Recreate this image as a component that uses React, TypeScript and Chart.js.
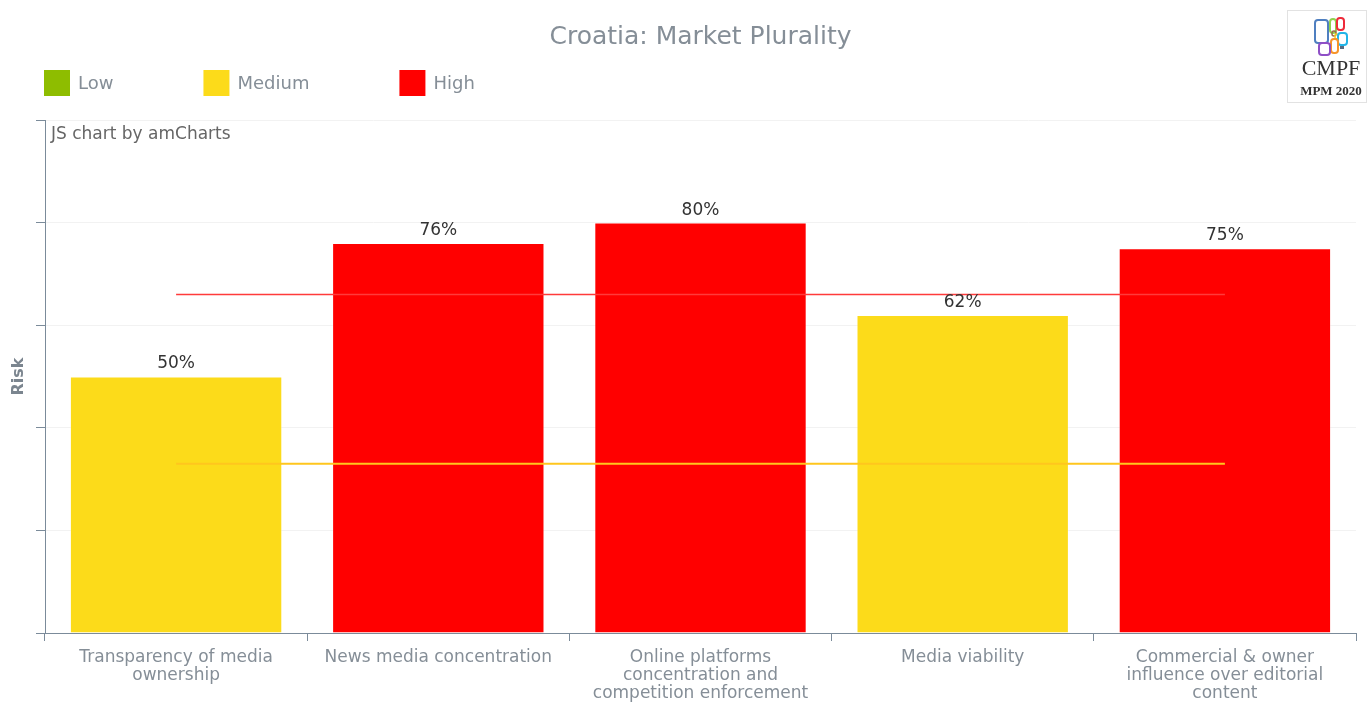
import React, { useEffect, useRef } from "react";
import { Chart, registerables } from "chart.js";

Chart.register(...registerables);

const chartTitle = "Croatia: Market Plurality";
const categories: string[][] = [
  ["Transparency of media", "ownership"],
  ["News media concentration"],
  ["Online platforms", "concentration and", "competition enforcement"],
  ["Media viability"],
  ["Commercial & owner", "influence over editorial", "content"],
];
const riskValues = [50, 76, 80, 62, 75];
const riskLevels = ["Medium", "High", "High", "Medium", "High"];
const highThreshold = [66, 66, 66, 66, 66];
const mediumThreshold = [33, 33, 33, 33, 33];
const legendLabels = ["Low", "Medium", "High"];
const yTicks = [0, 20, 40, 60, 80, 100];

const FONT = "'DejaVu Sans', Verdana, sans-serif";
const levelColors: Record<string, string> = {
  Low: "#8ebd00",
  Medium: "#fcdb1a",
  High: "#ff0000",
};
const axisColor = "#7b8b9a";
const textGray = "#858e97";

const decorPlugin = {
  id: "decor",
  afterDraw(chart: any) {
    const ctx = chart.ctx as CanvasRenderingContext2D;
    const area = chart.chartArea;
    ctx.save();
    // legend
    ctx.font = `18px ${FONT}`;
    ctx.textBaseline = "middle";
    let x = 44;
    const y = 83;
    legendLabels.forEach((lab) => {
      ctx.fillStyle = levelColors[lab];
      ctx.fillRect(x, y - 13, 26, 26);
      ctx.fillStyle = textGray;
      ctx.textAlign = "left";
      ctx.fillText(lab, x + 34, y + 1);
      x = x + 34 + ctx.measureText(lab).width + 90;
    });
    // watermark text
    ctx.font = `17px ${FONT}`;
    ctx.fillStyle = "#666";
    ctx.textBaseline = "middle";
    ctx.fillText("JS chart by amCharts", area.left + 6, area.top + 15);
    // data labels
    const meta = chart.getDatasetMeta(0);
    ctx.font = `17px ${FONT}`;
    ctx.fillStyle = "#333";
    ctx.textAlign = "center";
    ctx.textBaseline = "bottom";
    meta.data.forEach((bar: any, i: number) => {
      ctx.fillText(`${riskValues[i]}%`, bar.x, bar.y - 4);
    });
    // logo
    ctx.strokeStyle = "#e2e2e2";
    ctx.lineWidth = 1;
    ctx.strokeRect(1287.5, 10.5, 79, 92);
    const rr = (rx: number, ry: number, w: number, h: number, c: string, lw = 2) => {
      ctx.strokeStyle = c;
      ctx.lineWidth = lw;
      ctx.beginPath();
      (ctx as any).roundRect(rx, ry, w, h, 3);
      ctx.stroke();
    };
    rr(1315, 20, 13, 23, "#4f7fc0");
    rr(1330, 19, 6, 14, "#8fd14f");
    rr(1337, 18, 7, 12, "#ee2a3a");
    rr(1332, 31, 4, 5, "#9b6b4a", 1.5);
    rr(1335, 34, 3, 5, "#f5d020", 1.5);
    rr(1338, 33, 9, 12, "#22b5e8");
    rr(1331, 39, 7, 14, "#f7942a");
    rr(1319, 43, 11, 12, "#8e4fc6");
    ctx.fillStyle = "#5a6a80";
    ctx.fillRect(1340, 46, 4, 3);
    ctx.fillStyle = "#333";
    ctx.textAlign = "center";
    ctx.textBaseline = "middle";
    ctx.font = "22px 'Liberation Serif', serif";
    ctx.fillText("CMPF", 1331, 69);
    ctx.font = "bold 13px 'Liberation Serif', serif";
    ctx.fillText("MPM 2020", 1331, 92);
    ctx.restore();
  },
};

export default function App() {
  const ref = useRef<HTMLCanvasElement | null>(null);
  useEffect(() => {
    if (!ref.current) return;
    const chart = new Chart(ref.current, {
      type: "bar",
      data: {
        labels: categories as any,
        datasets: [
          {
            type: "bar",
            label: "Risk",
            data: riskValues,
            backgroundColor: riskLevels.map((l) => levelColors[l]),
            borderColor: "rgba(255,255,255,0.35)",
            borderWidth: 1,
            categoryPercentage: 1,
            barPercentage: 0.81,
            order: 2,
          } as any,
          {
            type: "line",
            label: "High threshold",
            data: highThreshold,
            borderColor: "#ff3b3b",
            borderWidth: 1.5,
            pointRadius: 0,
            order: 0,
          } as any,
          {
            type: "line",
            label: "Medium threshold",
            data: mediumThreshold,
            borderColor: "#ffc61e",
            borderWidth: 2,
            pointRadius: 0,
            order: 1,
          } as any,
        ],
      },
      options: {
        animation: false,
        responsive: true,
        maintainAspectRatio: false,
        layout: { padding: { left: 0, right: 12, top: 0, bottom: 0 } },
        plugins: {
          legend: { display: false },
          tooltip: { enabled: false },
          title: {
            display: true,
            fullSize: false,
            text: chartTitle,
            color: textGray,
            font: { family: FONT, size: 25, weight: "normal" as any, lineHeight: 1.2 },
            padding: { top: 22, bottom: 68 },
          },
        },
        scales: {
          x: {
            offset: true,
            grid: {
              display: true,
              drawOnChartArea: false,
              drawTicks: true,
              tickLength: 8,
              tickColor: axisColor,
              offset: true,
            },
            border: { display: true, color: axisColor, width: 1 },
            ticks: {
              color: textGray,
              font: { family: FONT, size: 17, lineHeight: 1.08 },
              maxRotation: 0,
              autoSkip: false,
              padding: 7,
            },
            afterFit: (s: any) => {
              s.height = 71;
            },
          },
          y: {
            min: 0,
            max: 100,
            afterBuildTicks: (s: any) => {
              s.ticks = yTicks.map((v) => ({ value: v }));
            },
            grid: {
              color: "#f2f2f2",
              drawTicks: true,
              tickLength: 9,
              tickColor: axisColor,
            },
            border: { display: true, color: axisColor, width: 1 },
            ticks: { display: false },
            title: {
              display: true,
              text: "Risk",
              color: "#7b858f",
              font: { family: FONT, size: 16, weight: "bold" as any, lineHeight: 1.2 },
              padding: { top: 9, bottom: 0 },
            },
            afterFit: (s: any) => {
              s.width = 45;
            },
          },
        },
      },
      plugins: [decorPlugin],
    });
    return () => chart.destroy();
  }, []);
  return (
    <div style={{ position: "fixed", left: 0, top: 0, width: 1368, height: 704, background: "#fff" }}>
      <canvas ref={ref} />
    </div>
  );
}
